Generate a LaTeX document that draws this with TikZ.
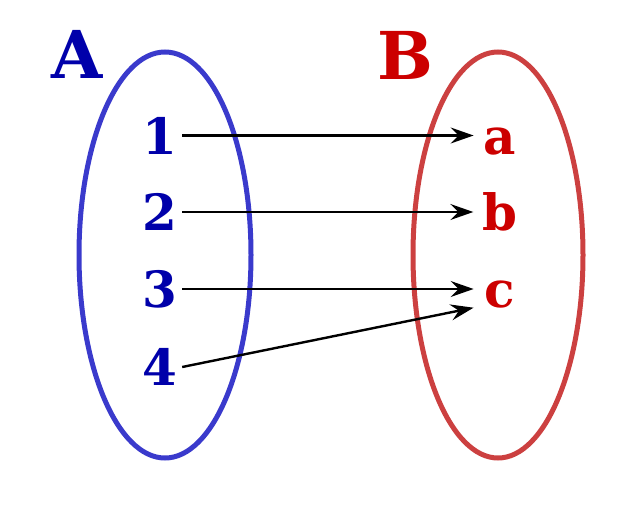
\documentclass[tikz,border=0pt]{standalone}
\usepackage{fontspec}
\setmainfont{DejaVu Serif}
\usetikzlibrary{arrows.meta}
\definecolor{setblue}{RGB}{58,58,204}
\definecolor{setred}{RGB}{204,64,64}
\definecolor{textblue}{RGB}{0,0,170}
\definecolor{textred}{RGB}{204,0,0}

\begin{document}
\begin{tikzpicture}[x=1pt,y=-1pt,
  elem/.style={font=\fontsize{50}{50}\selectfont\bfseries, text height=37pt, text depth=0pt, inner ysep=0pt},
  setname/.style={font=\fontsize{66}{66}\selectfont\bfseries, inner sep=0pt},
  map/.style={-{Stealth[length=23pt,width=16pt,inset=8pt]}, line width=2.4pt}]
\useasboundingbox (0,0) rectangle (640,512);
\draw[setblue, line width=5pt] (165,255) ellipse [x radius=86, y radius=203]; % set A
\draw[setred, line width=5pt] (498,255) ellipse [x radius=85, y radius=203]; % set B
\node[setname, textblue] (nameA) at (77,54) {A};
\node[setname, textred] (nameB) at (405,55.5) {B};
% elements of A
\node[elem, textblue, inner xsep=4.6pt] (n1) at (160,135.5) {1};
\node[elem, textblue, inner xsep=4.6pt] (n2) at (160,212) {2};
\node[elem, textblue, inner xsep=4.6pt] (n3) at (160,289) {3};
\node[elem, textblue, inner xsep=4.6pt] (n4) at (160,367) {4};
% elements of B
\node[elem, textred, inner xsep=10pt] (na) at (500,135.5) {a};
\node[elem, textred, inner xsep=9pt] (nb) at (500,212) {b};
\node[elem, textred, inner xsep=11pt] (nc) at (500,289) {c};
\draw[map] (n1.east) -- (na.west);
\draw[map] (n2.east) -- (nb.west);
\draw[map] (n3.east) -- (nc.west);
\draw[map] (n4.east) -- (nc.south west);
\end{tikzpicture}
\end{document}
